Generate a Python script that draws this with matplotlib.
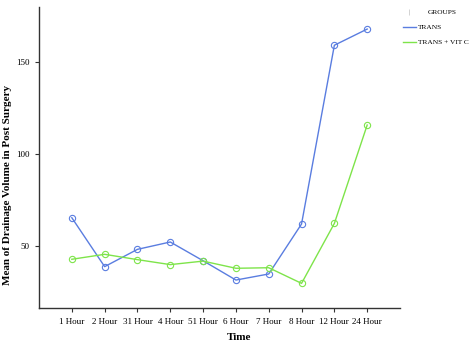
import matplotlib.pyplot as plt
from matplotlib.lines import Line2D

# values
time_labels = ['1 Hour', '2 Hour', '31 Hour', '4 Hour', '51 Hour', '6 Hour',
               '7 Hour', '8 Hour', '12 Hour', '24 Hour']
trans = [65.4, 38.8, 48.2, 52.2, 42.0, 31.5, 34.8, 62.0, 159.2, 168.0]
trans_vitc = [42.8, 45.5, 42.6, 39.9, 41.8, 37.9, 38.2, 29.7, 62.3, 115.8]
y_ticks = [50, 100, 150]

plt.rcParams['font.family'] = ['Liberation Serif', 'DejaVu Serif']

fig = plt.figure(figsize=(4.71, 3.42), dpi=100)
ax = fig.add_axes([39 / 471, (342 - 308) / 342, (400 - 39) / 471, (308 - 7) / 342])

x = list(range(1, len(time_labels) + 1))
blue = '#5a7de0'
green = '#7ee44a'
ax.plot(x, trans, color=blue, linewidth=1.0, marker='o', markersize=4.5,
        markerfacecolor='none', markeredgewidth=0.8)
ax.plot(x, trans_vitc, color=green, linewidth=1.0, marker='o', markersize=4.5,
        markerfacecolor='none', markeredgewidth=0.8)

ax.set_xlim(0, 11)
ax.set_ylim(16.3, 180)
ax.set_xticks(x)
ax.set_xticklabels(time_labels, fontsize=6.5)
ax.set_yticks(y_ticks)
ax.set_yticklabels([str(v) for v in y_ticks], fontsize=6.5)
ax.tick_params(length=3, width=0.8, color='#333333', pad=4)

for side in ['top', 'right']:
    ax.spines[side].set_visible(False)
for side in ['left', 'bottom']:
    ax.spines[side].set_color('#333333')
    ax.spines[side].set_linewidth(1.0)

ax.set_xlabel('Time', fontsize=8, fontweight='bold')
ax.xaxis.set_label_coords(0.555, -0.083)
ax.set_ylabel('Mean of Drainage Volume in Post Surgery', fontsize=8.0, fontweight='bold')
ax.yaxis.set_label_coords(-0.075, 0.41)

handles = [Line2D([], [], color='none', marker='|', markersize=4,
                  markeredgecolor='#cccccc', markeredgewidth=0.6),
           Line2D([], [], color=blue, linewidth=1.0),
           Line2D([], [], color=green, linewidth=1.0)]
labels = ['GROUPS', 'TRANS', 'TRANS + VIT C']
leg = fig.legend(handles, labels, loc='upper left', bbox_to_anchor=(403 / 471, 1 - 9 / 342),
                 frameon=False, fontsize=5.3, handlelength=1.7, handletextpad=0.3,
                 labelspacing=1.2, borderaxespad=0, borderpad=0)
texts = leg.get_texts()
texts[0].set_x(10)

fig.savefig('out.png', dpi=100)
